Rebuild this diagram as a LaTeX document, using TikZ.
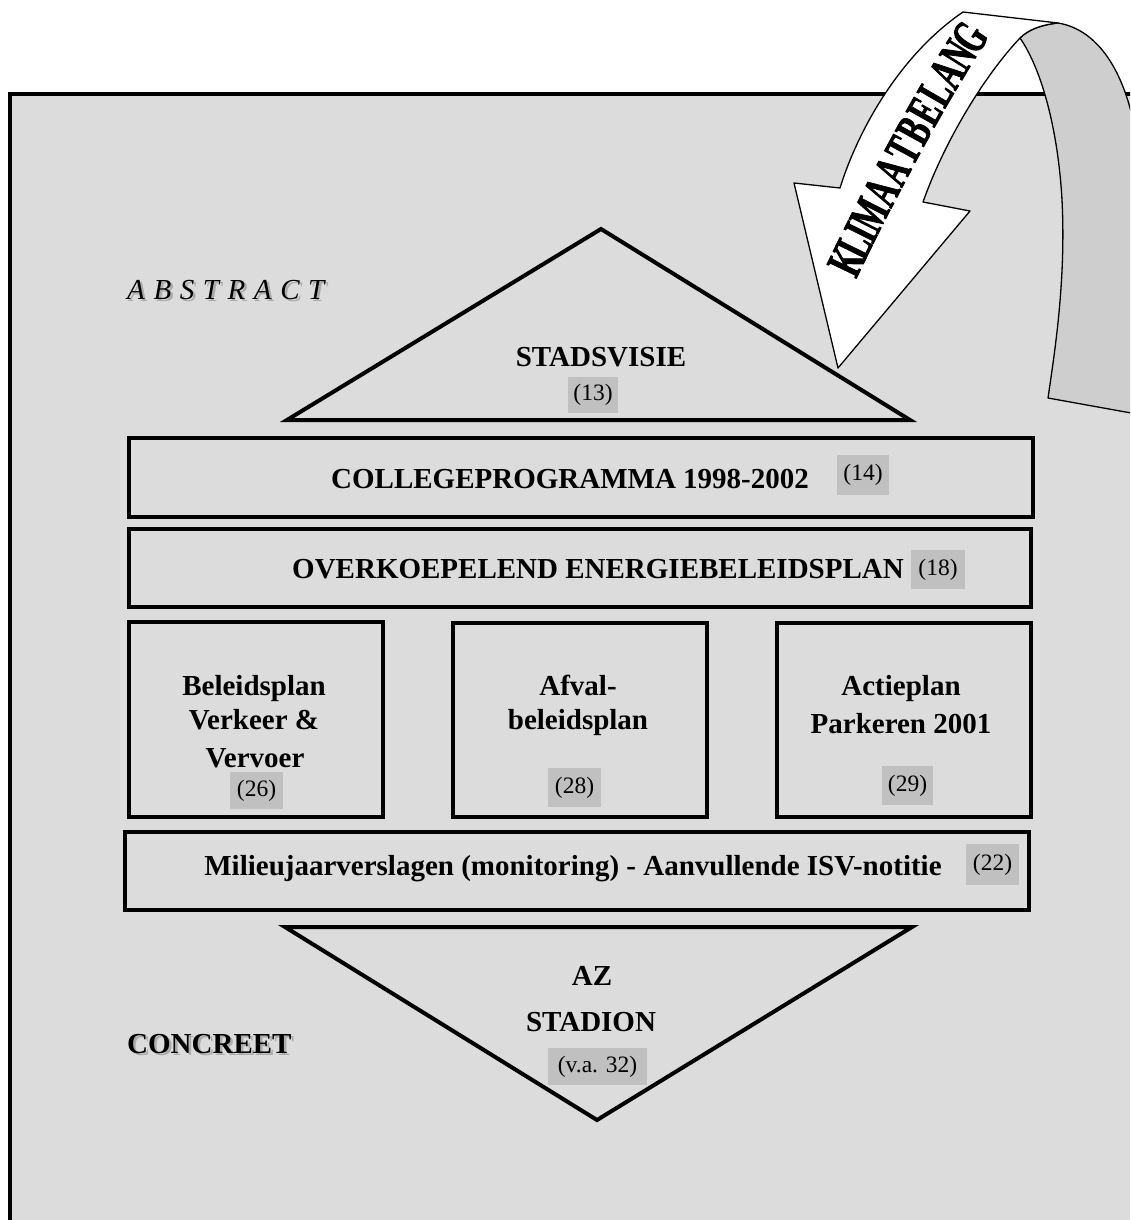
\documentclass[tikz,border=0pt]{standalone}
\usepackage{fontspec}
\setmainfont{Liberation Serif}
\newfontfamily\klfont{Liberation Serif}[FakeStretch=0.6, FakeBold=1.6]
\usetikzlibrary{positioning}
\definecolor{bggray}{RGB}{220,220,220}
\definecolor{lblgray}{RGB}{192,192,192}
\definecolor{backgray}{RGB}{206,206,206}
\definecolor{shadowgray}{RGB}{172,172,172}
\newcommand\spc{\hspace{8.6pt}}
\begin{document}
\begin{tikzpicture}[x=1pt,y=-1pt,
  bx/.style={draw, line width=3.5pt, fill=bggray, inner sep=0pt},
  ttl/.style={font=\fontsize{29}{32}\selectfont\bfseries, anchor=base, inner sep=0pt},
  lbl/.style={fill=lblgray, font=\fontsize{23.5}{26}\selectfont, inner sep=0pt},
  kl/.style={font=\klfont\fontsize{50}{52}\selectfont\bfseries, inner sep=0pt, sloped},
  thinline/.style={line width=1.3pt, line join=round},
  tri/.style={draw, line width=4pt, line join=miter, fill=bggray}]
\useasboundingbox (0,0) rectangle (1130,1220);
\fill[white] (0,0) rectangle (1130,1220);
\clip (0,0) rectangle (1130,1220);
% frame
\draw[line width=4pt, fill=bggray] (10,94) rectangle (1150,1240);
% top triangle
\coordinate (t1) at (287,420);
\coordinate (t2) at (601,229);
\coordinate (t3) at (910,420);
\draw[tri] (t1) -- (t2) -- (t3) -- cycle;
\node[ttl] (stad) at (601,366) {STADSVISIE};
\node[lbl, minimum width=50pt, minimum height=36pt] (l13) at (593,395) {(13)};
% boxes
\node[bx, minimum width=904pt, minimum height=79pt] (college) at (581,477.5) {};
\node[ttl] (collegetxt) at (570,488) {COLLEGEPROGRAMMA 1998-2002};
\node[lbl, minimum width=52pt, minimum height=40pt] (l14) at (863,475) {(14)};
\node[bx, minimum width=902pt, minimum height=78pt] (overk) at (580,568) {};
\node[ttl] (overktxt) at (598,578) {OVERKOEPELEND ENERGIEBELEIDSPLAN};
\node[lbl, minimum width=54pt, minimum height=39pt] (l18) at (938,569.5) {(18)};
\node[bx, minimum width=254pt, minimum height=195pt] (beleid) at (256,719.5) {};
\node[ttl] (beleid1) at (254,695) {Beleidsplan};
\node[ttl] (beleid2) at (254,729) {Verkeer \&};
\node[ttl] (beleid3) at (255,767) {Vervoer};
\node[lbl, minimum width=53pt, minimum height=37pt] (l26) at (256.5,790.5) {(26)};
\node[bx, minimum width=254pt, minimum height=194pt] (afval) at (580,720) {};
\node[ttl] (afval1) at (578,695) {Afval-};
\node[ttl] (afval2) at (578,729) {beleidsplan};
\node[lbl, minimum width=53pt, minimum height=39pt] (l28) at (574.5,787.5) {(28)};
\node[bx, minimum width=254pt, minimum height=194pt] (actie) at (904,720) {};
\node[ttl] (actie1) at (901,695) {Actieplan};
\node[ttl] (actie2) at (901,733) {Parkeren 2001};
\node[lbl, minimum width=51pt, minimum height=39pt] (l29) at (907.5,785.5) {(29)};
\node[bx, minimum width=904pt, minimum height=78pt] (milieu) at (577,871) {};
\node[ttl] (milieutxt) at (573,875) {Milieujaarverslagen (monitoring) - Aanvullende ISV-notitie};
\node[lbl, minimum width=53pt, minimum height=41pt] (l22) at (992.5,864.5) {(22)};
% bottom triangle
\coordinate (b1) at (285,927);
\coordinate (b2) at (912,927);
\coordinate (b3) at (597,1120);
\draw[tri] (b1) -- (b2) -- (b3) -- cycle;
\node[ttl] (az) at (592,985) {AZ};
\node[ttl] (stadion) at (591,1031) {STADION};
\node[lbl, minimum width=99pt, minimum height=37pt] (lva) at (597.5,1066.5) {(v.a. 32)};
% side labels
\node[font=\fontsize{29}{32}\selectfont\itshape, anchor=base west, inner sep=0pt, text=shadowgray] (abss) at (129.5,301.5) {A\spc B\spc S\spc T\spc R\spc A\spc C\spc T};
\node[font=\fontsize{29}{32}\selectfont\itshape, anchor=base west, inner sep=0pt] (abs) at (127,299) {A\spc B\spc S\spc T\spc R\spc A\spc C\spc T};
\node[ttl, anchor=base west, text=shadowgray] (cons) at (129.5,1055.5) {CONCREET};
\node[ttl, anchor=base west] (con) at (127,1053) {CONCREET};
% curved arrow: back side
\draw[thinline, fill=backgray] (1020,38) .. controls (1042,70) and (1058,130) .. (1062,200)
  .. controls (1066,280) and (1055,350) .. (1048,398) -- (1170,420) -- (1170,130) -- (1135,130)
  .. controls (1125,75) and (1100,30) .. (1058,23)
  .. controls (1040,25) and (1028,30) .. (1020,38) -- cycle;
% front side
\draw[thinline, fill=white] (963,12) -- (1058,23)
  .. controls (1040,25) and (1028,30) .. (1020,38)
  .. controls (985,75) and (945,140) .. (923,202)
  -- (970,211) -- (838,368) -- (794,183) -- (840,188)
  .. controls (858,130) and (900,55) .. (963,12) -- cycle;
\path (840,275) .. controls (868,215) and (935,85) .. (980,22)
  node[kl,pos=0.07] (k1) {K}
  node[kl,pos=0.144] (k2) {L}
  node[kl,pos=0.198] (k3) {I}
  node[kl,pos=0.267] (k4) {M}
  node[kl,pos=0.352] (k5) {A}
  node[kl,pos=0.426] (k6) {A}
  node[kl,pos=0.498] (k7) {T}
  node[kl,pos=0.566] (k8) {B}
  node[kl,pos=0.634] (k9) {E}
  node[kl,pos=0.703] (k10) {L}
  node[kl,pos=0.774] (k11) {A}
  node[kl,pos=0.848] (k12) {N}
  node[kl,pos=0.925] (k13) {G};
\end{tikzpicture}
\end{document}
